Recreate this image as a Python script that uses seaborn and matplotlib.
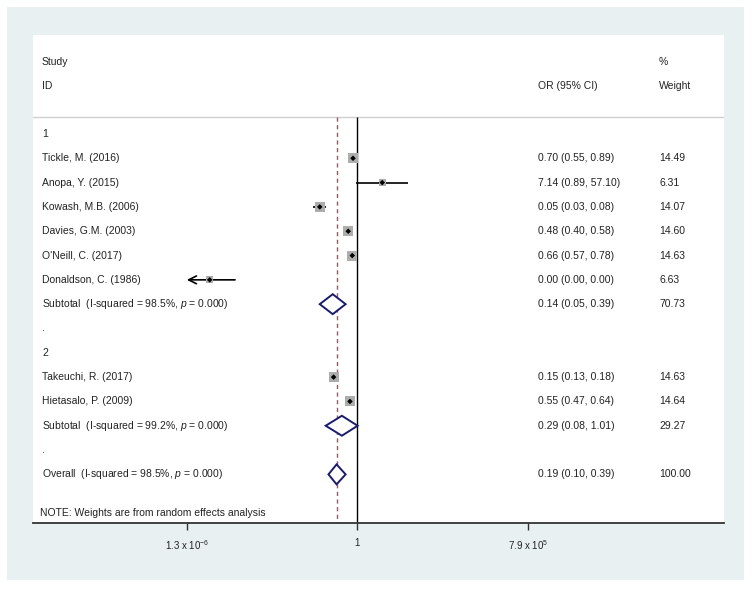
import numpy as np
import pandas as pd
import matplotlib
matplotlib.use("Agg")
import matplotlib.pyplot as plt
import matplotlib.transforms as mtransforms
from matplotlib.patches import Polygon, Rectangle
import seaborn as sns

# Study rows
studies = ["Tickle, M. (2016)", "Anopa, Y. (2015)", "Kowash, M.B. (2006)",
           "Davies, G.M. (2003)", "O'Neill, C. (2017)", "Donaldson, C. (1986)",
           "Takeuchi, R. (2017)", "Hietasalo, P. (2009)"]
study_rows = [1, 2, 3, 4, 5, 6, 10, 11]
or_est = [0.70, 7.14, 0.05, 0.48, 0.66, 8e-6, 0.15, 0.55]
ci_low = [0.55, 0.89, 0.03, 0.40, 0.57, 1e-8, 0.13, 0.47]
ci_high = [0.89, 57.10, 0.08, 0.58, 0.78, 6e-5, 0.18, 0.64]
weights = [14.49, 6.31, 14.07, 14.60, 14.63, 6.63, 14.63, 14.64]
or_text = ["0.70 (0.55, 0.89)", "7.14 (0.89, 57.10)", "0.05 (0.03, 0.08)",
           "0.48 (0.40, 0.58)", "0.66 (0.57, 0.78)", "0.00 (0.00, 0.00)",
           "0.15 (0.13, 0.18)", "0.55 (0.47, 0.64)"]
weight_text = ["14.49", "6.31", "14.07", "14.60", "14.63", "6.63", "14.63", "14.64"]

# Pooled rows (diamonds)
pooled_labels = ["Subtotal  (I-squared = 98.5%, $p$ = 0.000)",
                 "Subtotal  (I-squared = 99.2%, $p$ = 0.000)",
                 "Overall  (I-squared = 98.5%, $p$ = 0.000)"]
pooled_rows = [7, 12, 14]
pooled_est = [0.14, 0.29, 0.19]
pooled_low = [0.05, 0.08, 0.10]
pooled_high = [0.39, 1.01, 0.39]
pooled_or_text = ["0.14 (0.05, 0.39)", "0.29 (0.08, 1.01)", "0.19 (0.10, 0.39)"]
pooled_weight_text = ["70.73", "29.27", "100.00"]

# Group labels
group_labels = ["1", ".", "2", "."]
group_rows = [0, 8, 9, 13]

tick_vals = [1.3e-6, 1, 7.9e5]
tick_labels = ["1.3 x 10$^{-6}$", "1", "7.9 x 10$^{5}$"]

sns.set_style("white")
plt.rcParams["font.family"] = ["Liberation Sans", "DejaVu Sans"]
plt.rcParams["mathtext.fontset"] = "custom"
plt.rcParams["mathtext.rm"] = "Liberation Sans"
plt.rcParams["mathtext.it"] = "Liberation Sans:italic"

W, H = 752, 590
fig = plt.figure(figsize=(W / 100, H / 100), dpi=100)
fig.patch.set_facecolor("white")
bg = Rectangle((7 / W, 1 - 580 / H), 737 / W, 573 / H,
               transform=fig.transFigure, facecolor="#e9f0f2",
               edgecolor="none", zorder=-10)
fig.add_artist(bg)

ax = fig.add_axes([33 / W, 1 - 523 / H, 691 / W, (523 - 35) / H])
ax.set_zorder(1)
ax.set_facecolor("white")
ax.set_xscale("log")
ax.set_xlim(10 ** -11.19, 10 ** 12.64)
row_top, row_bot = -4.07, 16.0
ax.set_ylim(row_bot, row_top)

txt_color = "#222222"
fs = 7.5
trans = mtransforms.blended_transform_factory(ax.transAxes, ax.transData)
x_lab, x_or, x_wt = (42 - 33) / 691, (538 - 33) / 691, (659 - 33) / 691

# header
ax.text(x_lab, -2.95, "Study", transform=trans, va="center", fontsize=fs, color=txt_color)
ax.text(x_lab, -1.98, "ID", transform=trans, va="center", fontsize=fs, color=txt_color)
ax.text(x_or, -1.98, "OR (95% CI)", transform=trans, va="center", fontsize=fs, color=txt_color)
ax.text(x_wt, -2.95, "%", transform=trans, va="center", fontsize=fs, color=txt_color)
ax.text(x_wt, -1.98, "Weight", transform=trans, va="center", fontsize=fs, color=txt_color)
ax.axhline(-0.7, color="#d0d0d0", lw=1.0)

# reference lines
ax.vlines(1, -0.7, row_bot, color="black", lw=1.0, zorder=2)
ax.vlines(pooled_est[-1], -0.7, row_bot, color="#b8485e", lw=1.0,
          linestyles=[(0, (3, 2.5))], zorder=2)

for r, g in zip(group_rows, group_labels):
    ax.text(x_lab, r, g, transform=trans, va="center", fontsize=fs, color=txt_color)

df = pd.DataFrame({"study": studies, "row": study_rows, "or": or_est,
                   "lo": ci_low, "hi": ci_high, "w": weights})

# confidence intervals
xmin_plot = tick_vals[0]
for _, d in df.iterrows():
    if d["lo"] < xmin_plot:
        ax.annotate("", xy=(xmin_plot, d["row"]), xytext=(d["hi"], d["row"]),
                    arrowprops=dict(arrowstyle="->", lw=1.2, color="black",
                                    mutation_scale=14, shrinkA=0, shrinkB=0))
    else:
        ax.hlines(d["row"], d["lo"], d["hi"], color="black", lw=1.2, zorder=3)

# weight boxes and point estimates
sns.scatterplot(data=df, x="or", y="row", size="w", sizes=(0, 52),
                size_norm=(0, max(weights)), marker="s", color="#adadad",
                edgecolor="none", legend=False, ax=ax, zorder=4)
sns.scatterplot(data=df, x="or", y="row", marker="D", s=8, color="black",
                edgecolor="none", legend=False, ax=ax, zorder=5)

for i, d in df.iterrows():
    ax.text(x_lab, d["row"], d["study"], transform=trans, va="center",
            fontsize=fs, color=txt_color)
    ax.text(x_or, d["row"], or_text[i], transform=trans, va="center",
            fontsize=fs, color=txt_color)
    ax.text(x_wt, d["row"], weight_text[i], transform=trans, va="center",
            fontsize=fs, color=txt_color)

# diamonds
h = 0.41
for i, r in enumerate(pooled_rows):
    verts = [(pooled_low[i], r), (pooled_est[i], r - h),
             (pooled_high[i], r), (pooled_est[i], r + h)]
    ax.add_patch(Polygon(verts, closed=True, facecolor="white",
                         edgecolor="#1b1b6b", lw=1.4, zorder=4))
    ax.text(x_lab, r, pooled_labels[i], transform=trans, va="center",
            fontsize=fs, color=txt_color)
    ax.text(x_or, r, pooled_or_text[i], transform=trans, va="center",
            fontsize=fs, color=txt_color)
    ax.text(x_wt, r, pooled_weight_text[i], transform=trans, va="center",
            fontsize=fs, color=txt_color)

ax.text(x_lab - 0.003, 15.6, "NOTE: Weights are from random effects analysis",
        transform=trans, va="center", fontsize=fs, color=txt_color)

# x axis
for s in ["top", "left", "right"]:
    ax.spines[s].set_visible(False)
ax.spines["bottom"].set_color("#333333")
ax.spines["bottom"].set_linewidth(1.3)
ax.set_yticks([])
ax.set_xticks(tick_vals)
ax.set_xticklabels(tick_labels)
ax.xaxis.set_minor_locator(matplotlib.ticker.NullLocator())
ax.tick_params(axis="x", direction="out", length=5, width=1, color="#333333",
               labelsize=7, labelcolor=txt_color, pad=6, bottom=True)
ax.set_xlabel("")
ax.set_ylabel("")

fig.savefig("out.png", dpi=100)
